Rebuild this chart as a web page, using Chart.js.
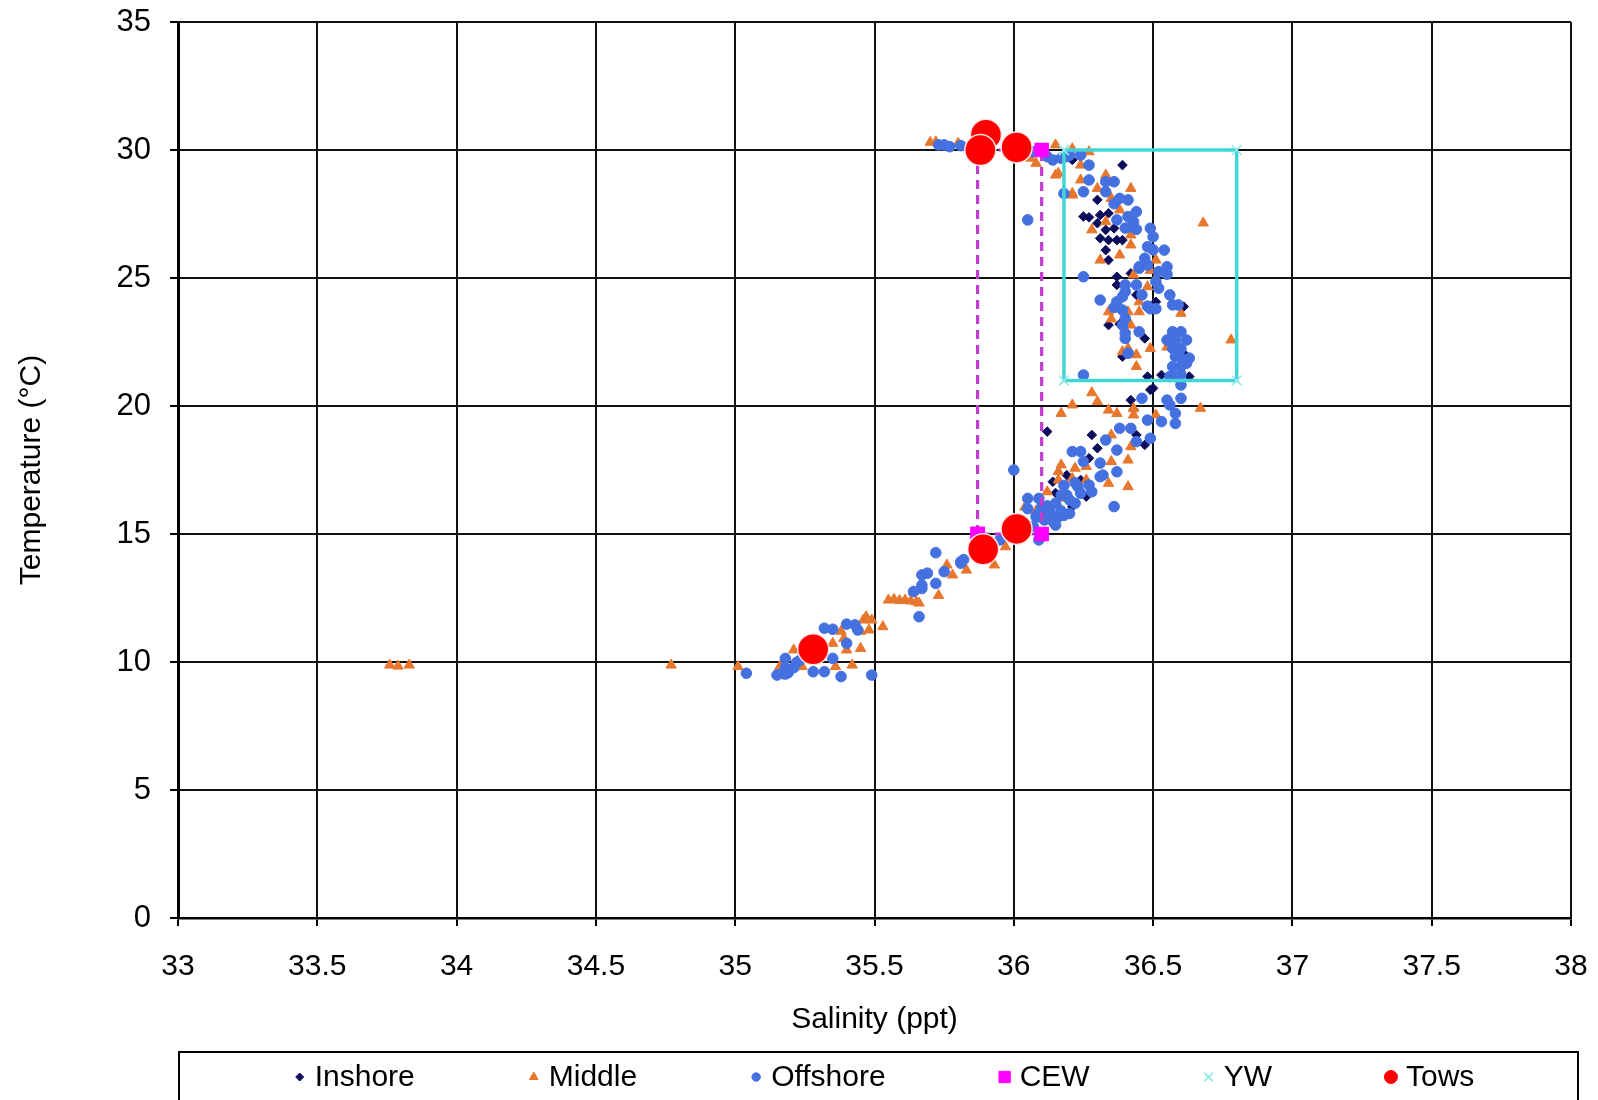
<!DOCTYPE html>
<html>
<head>
<meta charset="utf-8">
<script src="https://cdn.jsdelivr.net/npm/chart.js@4.4.1/dist/chart.umd.min.js"></script>
<style>
  html, body { margin: 0; padding: 0; background: #fff; }
  #wrap { width: 1598px; height: 1100px; }
</style>
</head>
<body>
<div id="wrap"><canvas id="chart1" width="1598" height="1100"></canvas></div>
<script>
// [salinity (ppt), temperature (C)] for each sample
const inshore = [
  [36.20,29.74],[36.21,29.61],[36.39,29.41],[36.30,28.05],[36.25,27.40],[36.27,27.37],[36.31,27.46],
  [36.34,27.53],[36.30,27.14],[36.33,26.88],[36.31,26.55],[36.36,26.94],[36.34,26.48],[36.37,26.48],
  [36.39,26.48],[36.33,26.09],[36.34,25.70],[36.37,25.05],[36.42,25.18],[36.37,24.73],[36.44,24.34],
  [36.51,24.07],[36.61,23.88],[36.34,23.16],[36.38,23.20],[36.47,22.64],[36.39,21.93],[36.61,22.06],
  [36.48,21.15],[36.53,21.21],[36.63,21.15],[36.50,20.69],[36.49,20.63],[36.42,20.23],[36.43,19.85],
  [36.12,19.00],[36.28,18.87],[36.44,18.87],[36.47,18.48],[36.30,18.35],[36.27,17.96],[36.19,17.30],
  [36.24,17.11],[36.14,17.04],[36.18,16.85],[36.26,16.46],[36.21,16.07],[36.11,15.93],[36.15,16.60]
];
const middle = [
  [35.70,30.30],[35.72,30.32],[35.76,30.13],[35.80,30.26],[35.84,30.10],[36.06,29.68],[36.08,29.48],
  [36.15,30.20],[36.21,30.05],[36.15,29.02],[36.21,28.24],[36.27,29.93],[36.24,29.41],[36.16,29.09],
  [36.24,28.83],[36.33,29.02],[36.21,28.31],[36.30,28.50],[36.35,28.11],[36.42,28.50],[36.38,27.66],
  [36.33,27.20],[36.28,26.88],[36.42,26.68],[36.42,26.29],[36.38,25.90],[36.31,25.70],[36.51,25.70],
  [36.68,27.15],[36.43,25.12],[36.49,25.30],[36.51,24.98],[36.48,24.66],[36.45,24.07],[36.34,23.68],
  [36.41,23.68],[36.45,23.68],[36.60,23.62],[36.35,23.40],[36.42,23.16],[36.78,22.58],[36.55,22.30],
  [36.41,22.25],[36.39,22.12],[36.49,22.25],[36.44,22.00],[36.44,21.54],[36.60,21.41],[36.28,20.52],
  [36.30,20.17],[36.21,20.04],[36.17,19.71],[36.34,19.84],[36.37,19.71],[36.43,19.90],[36.43,19.65],
  [36.51,19.65],[36.67,19.91],[36.35,18.87],[36.42,18.41],[36.41,17.89],[36.35,17.83],[36.17,17.70],
  [36.22,17.57],[36.26,17.64],[36.16,17.44],[36.21,17.17],[36.26,17.11],[36.16,17.11],[36.34,16.98],
  [36.41,16.85],[36.12,16.65],[36.04,16.05],[36.17,15.93],[36.13,15.55],[36.08,15.90],[36.19,16.40],
  [35.97,14.50],[35.93,13.79],
  [35.83,13.59],[35.76,13.79],[35.78,13.40],[35.64,12.75],[35.73,12.60],[35.55,12.42],[35.57,12.45],
  [35.59,12.40],[35.61,12.42],[35.63,12.38],[35.65,12.35],[35.66,12.30],[35.47,11.77],[35.46,11.64],
  [35.49,11.64],[35.48,11.25],[35.53,11.38],[35.38,11.20],[35.45,11.20],[35.39,10.92],[35.35,10.73],
  [35.45,10.53],[35.40,10.47],[35.21,10.47],[35.36,9.82],[35.42,9.88],[35.01,9.82],[35.16,9.82],
  [35.24,9.82],[33.76,9.88],[33.79,9.84],[33.83,9.88],[34.77,9.88]
];
const offshore = [
  [35.73,30.20],[35.75,30.20],[35.77,30.13],[35.81,30.17],[35.86,30.15],[36.07,29.93],[36.12,29.74],
  [36.14,29.61],[36.17,29.68],[36.19,29.74],[36.20,29.80],[36.24,29.80],[36.27,29.41],[36.18,28.30],
  [36.25,28.37],[36.27,28.83],[36.33,28.76],[36.36,28.76],[36.33,28.37],[36.38,28.11],[36.41,28.05],
  [36.36,27.90],[36.05,27.27],[36.37,27.27],[36.41,27.40],[36.44,27.59],[36.42,27.00],[36.44,26.90],
  [36.43,27.20],[36.40,26.95],
  [36.49,26.94],[36.50,26.61],[36.48,26.22],[36.50,26.10],[36.54,26.09],[36.47,25.77],[36.45,25.44],
  [36.55,25.44],[36.25,25.05],[36.45,25.38],[36.48,25.51],[36.52,25.25],[36.55,25.15],[36.51,24.86],
  [36.40,24.73],[36.44,24.73],[36.52,24.60],[36.40,24.47],[36.39,24.27],[36.46,24.34],[36.56,24.34],
  [36.31,24.14],[36.37,24.07],[36.48,23.90],[36.57,23.95],[36.59,23.95],[36.49,23.80],[36.51,23.80],
  [36.36,23.85],[36.39,23.75],[36.40,23.42],[36.39,23.16],[36.45,22.90],[36.40,22.84],[36.40,22.64],
  [36.57,22.90],[36.60,22.90],[36.55,22.58],[36.58,22.58],[36.62,22.58],[36.57,22.25],[36.60,22.25],
  [36.41,22.06],[36.58,21.93],[36.60,21.87],[36.63,21.87],[36.57,21.54],[36.60,21.54],[36.62,21.67],
  [36.25,21.21],[36.56,21.15],[36.58,21.15],[36.60,21.21],[36.60,20.82],[36.46,20.30],[36.55,20.23],
  [36.56,20.04],[36.60,20.30],[36.58,19.71],[36.48,19.45],[36.53,19.39],[36.58,19.32],[36.38,19.13],
  [36.42,19.13],[36.33,18.67],[36.44,18.61],[36.49,18.74],[36.37,18.28],[36.21,18.22],[36.24,18.22],
  [36.25,17.83],[36.31,17.77],[36.37,17.43],[36.31,17.24],[36.32,17.30],[36.23,16.85],[36.27,16.91],
  [36.24,16.59],[36.28,16.65],[36.19,16.52],[36.20,16.33],[36.17,16.52],[36.36,16.07],[36.05,16.39],
  [36.09,16.39],[36.05,15.99],[36.10,16.05],[36.15,16.20],[36.13,15.87],[36.16,15.67],[36.18,15.73],
  [36.20,15.80],[36.11,15.55],[36.09,15.67],[36.15,15.35],[36.08,15.68],[36.07,15.30],[36.09,15.81],
  [36.12,16.10],[36.17,15.90],[36.22,16.20],[36.14,15.50],[36.18,16.90],[36.22,17.00],
  [36.09,14.77],[36.00,17.50],[35.95,14.77],[35.72,14.27],[35.81,13.92],[35.82,14.00],[35.81,13.86],
  [35.75,13.53],[35.67,13.40],[35.69,13.47],[35.72,13.07],[35.67,13.00],[35.67,12.87],[35.64,12.75],
  [35.66,11.77],[35.32,11.32],[35.35,11.28],[35.40,11.48],[35.43,11.45],[35.44,11.25],[35.40,10.73],
  [35.18,10.14],[35.22,9.98],[35.23,10.05],[35.35,10.14],[35.28,9.62],[35.32,9.62],[35.38,9.43],
  [35.49,9.49],[35.15,9.49],[35.17,9.55],[35.18,9.53],[35.19,9.58],[35.18,9.78],[35.21,9.78],
  [35.04,9.56]
];
// water mass boxes
const cew = [[35.87,15],[35.87,30],[36.10,30],[36.10,15],[35.87,15]];
const yw = [[36.18,30],[36.80,30],[36.80,21],[36.18,21],[36.18,30]];
const tows = [[35.90,30.6],[35.88,30.0],[36.01,30.1],[35.89,14.4],[36.01,15.2],[35.28,10.5]];

const seriesNames = ['Inshore', 'Middle', 'Offshore', 'CEW', 'YW', 'Tows'];
const salinityRange = [33, 38, 0.5];
const tempRange = [0, 35, 5];

const FONT = '"Liberation Sans", Arial, sans-serif';

function toXY(pairs) {
  return pairs.map(p => ({ x: p[0], y: p[1] }));
}

// fixed axis box sizes, label overflow is left to the layout padding
function fixAxis(size) {
  return s => {
    if (s.isHorizontal()) s.height = size; else s.width = size;
    s.paddingTop = 0; s.paddingBottom = 0; s.paddingLeft = 0; s.paddingRight = 0;
  };
}

// draws the framed legend row under the axis title
const legendRow = {
  id: 'legendRow',
  afterDraw(chart) {
    const ctx = chart.ctx;
    ctx.save();
    ctx.strokeStyle = '#000';
    ctx.lineWidth = 2;
    ctx.strokeRect(179, 1052, 1399, 80);

    ctx.font = '30px ' + FONT;
    ctx.textBaseline = 'middle';
    ctx.textAlign = 'left';
    const sets = chart.data.datasets;
    const widths = sets.map(d => ctx.measureText(d.label).width);
    const markGap = 15, itemGap = 119;
    let total = 0;
    widths.forEach((w, i) => { total += markGap + w + (i < widths.length - 1 ? itemGap : 0); });
    let x = 887 - total / 2;
    const y = 1077;
    sets.forEach((d, i) => {
      ctx.fillStyle = d.legendColor;
      ctx.strokeStyle = d.legendColor;
      ctx.lineWidth = d.legendStyle === 'crossRot' ? 1.5 : 1;
      Chart.helpers.drawPoint(ctx, {
        pointStyle: d.legendStyle, radius: d.legendRadius, rotation: 0, borderWidth: ctx.lineWidth
      }, x, y);
      ctx.fillStyle = '#000';
      ctx.fillText(d.label, x + markGap, y + 1);
      x += markGap + widths[i] + itemGap;
    });
    ctx.restore();
  }
};

const ctx = document.getElementById('chart1');
new Chart(ctx, {
  type: 'scatter',
  data: {
    datasets: [
      {
        label: seriesNames[0], data: toXY(inshore), order: 6,
        pointStyle: 'rectRot', pointRadius: 4.8, backgroundColor: '#0c0c5c', borderColor: '#0c0c5c', borderWidth: 1,
        legendStyle: 'rectRot', legendRadius: 4, legendColor: '#0c0c5c'
      },
      {
        label: seriesNames[1], data: toXY(middle), order: 5,
        pointStyle: 'triangle', pointRadius: 6, backgroundColor: '#e8772e', borderColor: '#e8772e', borderWidth: 1,
        legendStyle: 'triangle', legendRadius: 5, legendColor: '#e8772e'
      },
      {
        label: seriesNames[2], data: toXY(offshore), order: 4,
        pointStyle: 'circle', pointRadius: 5.3, backgroundColor: '#4470e0', borderColor: '#4470e0', borderWidth: 1,
        legendStyle: 'circle', legendRadius: 4.2, legendColor: '#4470e0'
      },
      {
        label: seriesNames[3], data: toXY(cew), order: 3, showLine: true,
        borderColor: '#c43bd2', borderWidth: 3.2, borderDash: [9, 6],
        pointStyle: 'rect', pointRadius: 8, pointBackgroundColor: '#ff00ff', pointBorderColor: '#ff00ff',
        legendStyle: 'rect', legendRadius: 8, legendColor: '#ff00ff'
      },
      {
        label: seriesNames[4], data: toXY(yw), order: 2, showLine: true,
        borderColor: '#40d6d6', borderWidth: 3.5,
        pointStyle: 'crossRot', pointRadius: 7, pointBorderColor: '#90e8ec', pointBorderWidth: 1.5,
        legendStyle: 'crossRot', legendRadius: 6, legendColor: '#7fe3e8'
      },
      {
        label: seriesNames[5], data: toXY(tows), order: 1,
        pointStyle: 'circle', pointRadius: 15.5, backgroundColor: '#ff0000', borderColor: 'rgba(255,235,235,0.95)', borderWidth: 1.5,
        legendStyle: 'circle', legendRadius: 6.5, legendColor: '#ff0000'
      }
    ]
  },
  options: {
    responsive: false,
    devicePixelRatio: 1,
    animation: false,
    events: [],
    layout: { padding: { left: 0, right: 27, top: 22, bottom: 60 } },
    plugins: {
      legend: { display: false },
      tooltip: { enabled: false }
    },
    scales: {
      x: {
        type: 'linear',
        min: salinityRange[0], max: salinityRange[1],
        ticks: {
          stepSize: salinityRange[2], padding: 23, color: '#000',
          font: { family: FONT, size: 30 },
          callback: v => String(v)
        },
        grid: { color: '#111', lineWidth: 2, tickLength: 8, tickColor: '#000', tickWidth: 2 },
        border: { color: '#000', width: 2.5 },
        title: {
          display: true, text: 'Salinity (ppt)', color: '#000',
          font: { family: FONT, size: 30 }, padding: { top: 0, bottom: 2 }
        },
        afterFit: fixAxis(122)
      },
      y: {
        type: 'linear',
        min: tempRange[0], max: tempRange[1],
        ticks: {
          stepSize: tempRange[2], padding: 19, color: '#000',
          font: { family: FONT, size: 31 },
          callback: v => String(v)
        },
        grid: { color: '#111', lineWidth: 2, tickLength: 8, tickColor: '#000', tickWidth: 2 },
        border: { color: '#000', width: 3 },
        title: {
          display: true, text: 'Temperature (°C)', color: '#000',
          font: { family: FONT, size: 30 }, padding: { top: 14, bottom: 0 }
        },
        afterFit: fixAxis(178)
      }
    }
  },
  plugins: [legendRow]
});
</script>
</body>
</html>
